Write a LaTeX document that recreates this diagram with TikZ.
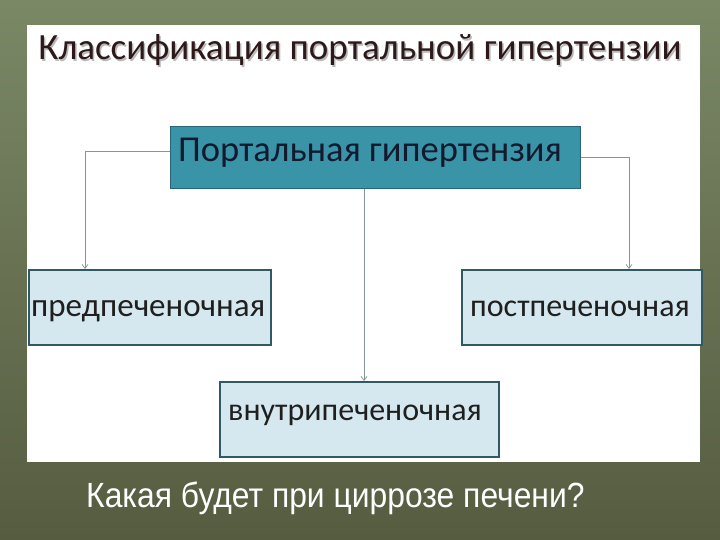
\documentclass[tikz,border=0pt]{standalone}
\usepackage{fontspec}
\setmainfont{Carlito}
\newfontfamily\arialf{Liberation Sans}
\usetikzlibrary{arrows.meta}
\definecolor{bgtop}{RGB}{122,136,102}
\definecolor{bgbot}{RGB}{86,92,64}
\definecolor{topfill}{RGB}{58,148,168}
\definecolor{topdraw}{RGB}{40,100,115}
\definecolor{subfill}{RGB}{213,232,240}
\definecolor{subdraw}{RGB}{47,90,100}
\definecolor{conn}{RGB}{130,150,155}
\definecolor{titlec}{RGB}{45,25,25}
\definecolor{toptext}{RGB}{20,25,45}
\tikzset{
  x=1pt, y=-1pt,
  topbox/.style={draw=topdraw, line width=1.2pt, fill=topfill, rectangle, anchor=north west, inner sep=0pt},
  subbox/.style={draw=subdraw, line width=1.6pt, fill=subfill, rectangle, anchor=north west, inner sep=0pt},
  conn/.style={draw=conn, line width=0.7pt, -{Straight Barb[length=4pt,width=6pt]}},
  lbl/.style={anchor=base west, inner sep=0pt, text=black!88}
}
\begin{document}
\begin{tikzpicture}
\useasboundingbox (0,0) rectangle (720,540);
\shade[top color=bgtop, bottom color=bgbot] (0,0) rectangle (720,540);
\fill[white] (27,25) rectangle (700,462);
% title
\node[anchor=base, inner sep=0pt, text=gray!55, font=\fontsize{37}{40}\selectfont] at (361.5,61.5) {Классификация портальной гипертензии};
\node (title) [anchor=base, inner sep=0pt, text=titlec, font=\fontsize{37}{40}\selectfont] at (360,60) {Классификация портальной гипертензии};
% boxes
\node (top) [topbox, minimum width=410pt, minimum height=62pt] at (170,126) {};
\node[lbl, font=\fontsize{36.5}{40}\selectfont, text=toptext] at (178,162) {Портальная гипертензия};
\node (pre) [subbox, minimum width=242pt, minimum height=75pt] at (28,269) {};
\node[lbl, font=\fontsize{33}{36}\selectfont] at (31,316) {предпеченочная};
\node (post) [subbox, minimum width=240pt, minimum height=75pt] at (461,269) {};
\node[lbl, font=\fontsize{32}{36}\selectfont] at (470,316) {постпеченочная};
\node (intra) [subbox, minimum width=279pt, minimum height=75pt] at (219,381) {};
\node[lbl, font=\fontsize{32}{36}\selectfont] at (228,420) {внутрипеченочная};
% connectors
\coordinate (lc) at (85,151);
\coordinate (rc) at (629,157);
\draw[conn] (top.west |- lc) -- (lc) -- (lc |- pre.north);
\draw[conn] (top.east |- rc) -- (rc) -- (rc |- post.north);
\draw[conn] (top.south -| 364,0) -- (364,381);
% bottom question
\node (q) [anchor=base west, inner sep=0pt, text=white, font=\arialf\fontsize{35}{38}\selectfont] at (86,507) {\addfontfeatures{FakeStretch=0.91}Какая будет при циррозе печени?};
\end{tikzpicture}
\end{document}
